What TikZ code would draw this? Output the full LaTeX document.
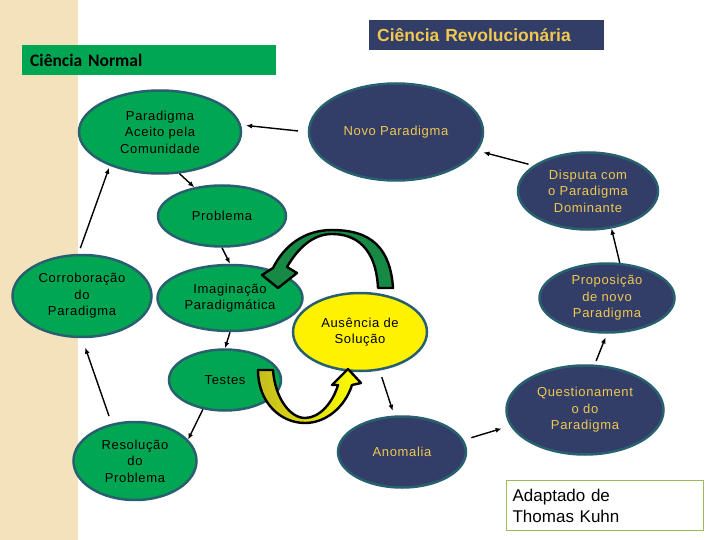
\documentclass[tikz,border=0pt]{standalone}
\usepackage{fontspec}
\setmainfont{Liberation Sans}
\newfontfamily\calibri{Carlito}
\newfontfamily\arialesp{Liberation Sans}[LetterSpace=5]
\usetikzlibrary{shapes.geometric,arrows.meta}
\definecolor{verdeN}{RGB}{0,166,81}
\definecolor{verdeE}{RGB}{22,138,68}
\definecolor{azulR}{RGB}{50,61,104}
\definecolor{contorno}{RGB}{40,96,112}
\definecolor{ouro}{RGB}{240,200,80}
\definecolor{areia}{RGB}{243,226,188}
\definecolor{borda}{RGB}{155,187,89}
\definecolor{oliva}{RGB}{196,188,30}
\tikzset{
  elipse/.style  = {ellipse, draw=contorno, line width=2.5pt, inner sep=0, align=center, font=\arialesp\fontsize{13}{16.5}\selectfont},
  verde/.style   = {elipse, fill=verdeN},
  azul/.style    = {elipse, fill=azulR, text=ouro},
  amarela/.style = {elipse, fill=yellow},
  seta/.style    = {line width=1.4pt, -{Latex[length=6pt,width=5pt]}},
  bloco/.style   = {draw=black, line width=2.4pt, line join=round},
  titulo/.style  = {anchor=north west, minimum height=30pt, inner xsep=8pt, align=left}
}

\begin{document}
\begin{tikzpicture}[x=1pt,y=-1pt]
  \useasboundingbox (0,0) rectangle (720,540);
  \fill[areia] (0,0) rectangle (78,540);

  \node[titulo, fill=verdeN, text width=238pt, font=\calibri\bfseries\fontsize{17.5}{20}\selectfont] (normal) at (22,45) {Ciência Normal};
  \node[titulo, fill=azulR, text=ouro, text width=219pt, font=\bfseries\fontsize{17.5}{20}\selectfont] (revol) at (369,20) {Ciência Revolucionária};

  \node[verde, minimum width=162pt, minimum height=83pt] (aceito) at (160,132) {Paradigma\\Aceito pela\\Comunidade};
  \node[azul, minimum width=174pt, minimum height=97pt] (novo) at (396,132) {Novo Paradigma};
  \node[verde, minimum width=128pt, minimum height=61pt] (problema) at (222,216) {Problema};
  \node[azul, minimum width=140pt, minimum height=77pt] (disputa) at (588,191) {Disputa com\\o Paradigma\\Dominante};
  \node[verde, minimum width=139pt, minimum height=82pt] (corrob) at (82,296) {Corroboração\\do\\Paradigma};
  \node[verde, minimum width=145pt, minimum height=66pt] (imag) at (230,298) {Imaginação\\Paradigmática};
  \node[amarela, minimum width=134pt, minimum height=78pt] (ausencia) at (360,332) {Ausência de\\Solução};
  \node[azul, minimum width=135pt, minimum height=69pt] (prop) at (607,298) {Proposição\\de novo\\Paradigma};
  \node[verde, minimum width=112pt, minimum height=61pt] (testes) at (225,380) {Testes};
  \node[azul, minimum width=157pt, minimum height=89pt] (quest) at (585,410) {Questionament\\o do\\Paradigma};
  \node[verde, minimum width=123pt, minimum height=78pt] (resol) at (135,461) {Resolução\\do\\Problema};
  \node[azul, minimum width=128pt, minimum height=71pt] (anomalia) at (402,452) {Anomalia};

  \node[draw=borda, line width=1.2pt, anchor=north west, minimum height=50pt, inner xsep=6pt, text width=185pt, align=left, font=\fontsize{17}{21}\selectfont] (kuhn) at (506,480) {Adaptado de\\Thomas Kuhn};

  \draw[seta, shorten <=10pt, shorten >=5pt] (novo.west) -- (aceito.5);
  \draw[seta, shorten <=5pt, shorten >=6pt] (disputa.155) -- (novo.-13);
  \draw[seta] (prop.70) -- (disputa.-58);
  \draw[seta, shorten <=4pt, shorten >=4pt] (quest.78) -- (prop.south);
  \draw[seta, shorten <=8pt, shorten >=9pt] (anomalia.11) -- (quest.192);
  \draw[seta, shorten <=7pt, shorten >=5pt] (ausencia.-63) -- (anomalia.102);
  \draw[seta] (aceito.-65) -- (problema.134);
  \draw[seta] (problema.south) -- (imag.north);
  \draw[seta] (imag.south) -- (testes.north);
  \draw[seta] (testes.-127) -- (resol.22);
  \draw[seta, shorten <=8pt, shorten >=10pt] (resol.122) -- (corrob.south);
  \draw[seta, shorten <=6pt, shorten >=2pt] (corrob.95) -- (aceito.214);

  \draw[bloco, fill=verdeE] (378,288) -- (393,288) .. controls (390,240) and (362,230) .. (332,230) .. controls (304,230) and (284,246) .. (273,268) -- (262,275) -- (278,288) -- (297,273) -- (287,267) .. controls (298,248) and (313,234) .. (332,234) .. controls (355,234) and (376,247) .. (378,288) -- cycle;
  \draw[bloco, left color=oliva, right color=yellow] (258,370) -- (273,370) .. controls (275,398) and (290,418) .. (305,418) .. controls (320,418) and (333,402) .. (338,385) -- (332,385) -- (348,369) -- (361,383) -- (352,385) .. controls (345,407) and (326,423) .. (305,423) .. controls (280,423) and (258,402) .. (258,370) -- cycle;
\end{tikzpicture}
\end{document}
